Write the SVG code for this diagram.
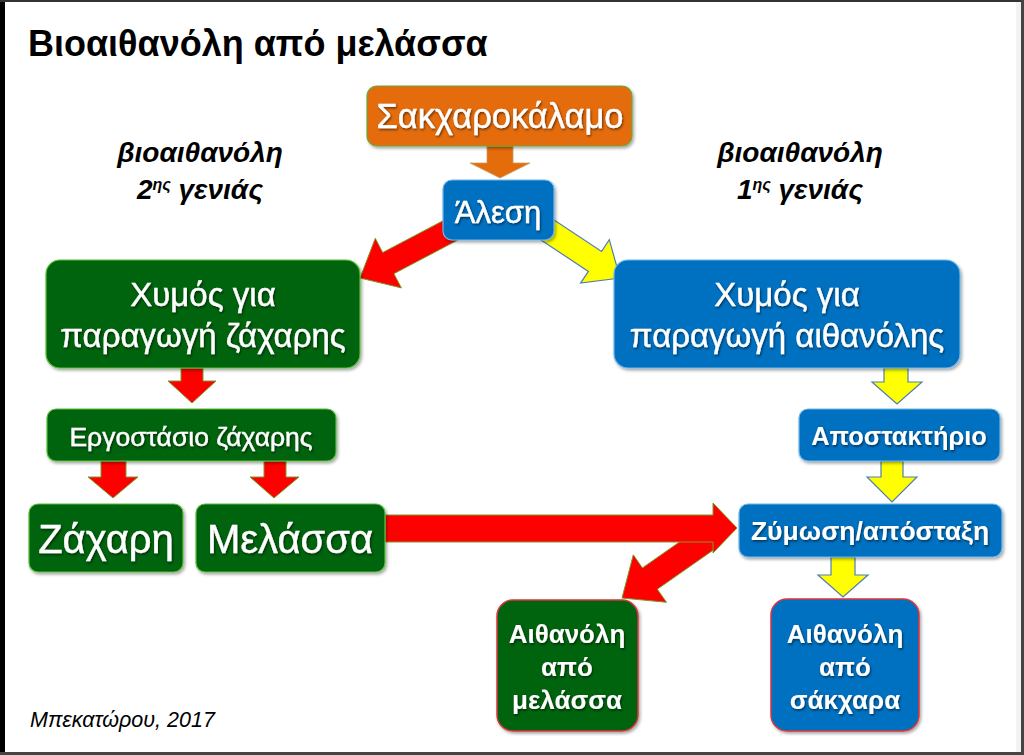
<svg xmlns="http://www.w3.org/2000/svg" width="1024" height="755" viewBox="0 0 1024 755">
<defs>
<filter id="ts" x="-10%" y="-10%" width="120%" height="130%">
<feDropShadow dx="1" dy="1.5" stdDeviation="0.8" flood-color="#000" flood-opacity="0.55"/>
</filter>
<filter id="bs" x="-10%" y="-10%" width="120%" height="130%">
<feDropShadow dx="1.5" dy="2" stdDeviation="1.5" flood-color="#000" flood-opacity="0.35"/>
</filter>
</defs>
<style>
text{font-family:"Liberation Sans",Arial,sans-serif;}
.t{fill:#fff;text-anchor:middle;filter:url(#ts);stroke:#fff;stroke-width:0.4;}
.b{font-weight:bold;stroke-width:0;}
.green{fill:#00640a;stroke:#5cbf3c;stroke-width:1.2;filter:url(#bs);}
.blue{fill:#0070c0;stroke:#6fb7ea;stroke-width:1.2;filter:url(#bs);}
.orange{fill:#e46c0a;stroke:#6aaa3a;stroke-width:1.2;filter:url(#bs);}
.greenR{fill:#00640a;stroke:#d9363e;stroke-width:1.5;filter:url(#bs);}
.blueR{fill:#0070c0;stroke:#d9363e;stroke-width:1.5;filter:url(#bs);}
.red{fill:#ff0000;stroke:#7a9a2a;stroke-width:1;}
.yel{fill:#ffff00;stroke:#4f7fb0;stroke-width:1.2;}
.org{fill:#e46c0a;stroke:#c0a060;stroke-width:0.8;}
.side{font-style:italic;font-weight:bold;font-size:28px;fill:#000;text-anchor:middle;}
</style>
<rect x="0" y="0" width="1024" height="755" fill="#fff"/>
<rect x="0" y="0" width="5" height="755" fill="#000"/>
<rect x="0" y="0" width="1024" height="2" fill="#333"/>
<rect x="1021" y="0" width="3" height="755" fill="#444"/>
<rect x="1016" y="2" width="5" height="751" fill="#f2f2f2"/>
<rect x="0" y="752" width="1024" height="3" fill="#444"/>

<text x="28" y="56" font-size="36" font-weight="bold" fill="#000">Βιοαιθανόλη από μελάσσα</text>

<text class="side" x="200" y="162">βιοαιθανόλη</text>
<text class="side" x="200" y="199">2<tspan font-size="16" dy="-9">ης</tspan><tspan dy="9"> γενιάς</tspan></text>
<text class="side" x="800" y="162">βιοαιθανόλη</text>
<text class="side" x="800" y="199">1<tspan font-size="16" dy="-9">ης</tspan><tspan dy="9"> γενιάς</tspan></text>

<g id="connectors">
<polygon class="org" points="487,146 513,146 513,163 530,163 500,178 470,163 487,163"/>
<polygon class="red" points="449.4,217.4 382.7,252.5 375.3,238.3 360,278 401.4,287.9 393.9,273.7 460.6,238.6"/>
<polygon class="yel" points="533.4,235 588.4,271.4 580.6,283.1 620,278 609.3,239.7 601.6,251.4 546.6,215"/>
<polygon class="red" points="181,368 203,368 203,381 216,381 192,403 168,381 181,381"/>
<polygon class="red" points="101,461 126,461 126,477 138,477 113,498 88,477 101,477"/>
<polygon class="red" points="264,461 286,461 286,477 299,477 274,498 250,477 264,477"/>
<polygon class="red" points="704.6,524.4 642.4,567.9 633.3,554.8 622,598 666.5,602.3 657.3,589.2 719.5,545.7"/>
<polygon class="red" points="385,515 713,515 713,503 737,528 713,553 713,542 385,542"/>
<polygon class="yel" points="884,368 908,368 908,382 922,382 897,404 872,382 884,382"/>
<polygon class="yel" points="881,461 903,461 903,477 917,477 892,502 867,477 881,477"/>
<polygon class="yel" points="831,557 855,557 855,575 868,575 843,597 818,575 831,575"/>
</g>

<g id="sakcharokalamo">
<rect class="orange" x="367" y="86" width="265" height="60" rx="10"/>
<text class="t" x="500" y="128" font-size="34.5">Σακχαροκάλαμο</text>
</g>
<g id="alesi">
<rect class="blue" x="443" y="180" width="111" height="60" rx="9"/>
<text class="t" x="498" y="223" font-size="31">Άλεση</text>
</g>
<g id="xymos-zachari">
<rect class="green" x="46" y="260" width="314" height="108" rx="14"/>
<text class="t" x="203" y="306" font-size="33">Χυμός για</text>
<text class="t" x="203" y="347" font-size="33">παραγωγή ζάχαρης</text>
</g>
<g id="xymos-aithanoli">
<rect class="blue" x="614" y="260" width="346" height="108" rx="14"/>
<text class="t" x="787" y="306" font-size="33">Χυμός για</text>
<text class="t" x="787" y="347" font-size="33">παραγωγή αιθανόλης</text>
</g>
<g id="ergostasio">
<rect class="green" x="47" y="409" width="289" height="52" rx="9"/>
<text class="t" x="191" y="446" font-size="26.5">Εργοστάσιο ζάχαρης</text>
</g>
<g id="zachari">
<rect class="green" x="29" y="504" width="154" height="68" rx="9"/>
<text class="t" x="106" y="553" font-size="40">Ζάχαρη</text>
</g>
<g id="melassa">
<rect class="green" x="196" y="504" width="189" height="68" rx="9"/>
<text class="t" x="290" y="553" font-size="40">Μελάσσα</text>
</g>
<g id="apostaktirio">
<rect class="blue" x="799" y="409" width="201" height="52" rx="9"/>
<text class="t b" x="899" y="445" font-size="25.4">Αποστακτήριο</text>
</g>
<g id="zymosi">
<rect class="blue" x="739" y="504" width="263" height="53" rx="9"/>
<text class="t b" x="870" y="540" font-size="26.5">Ζύμωση/απόσταξη</text>
</g>
<g id="aithanoli-melassa">
<rect class="greenR" x="497" y="600" width="141" height="131" rx="16"/>
<text class="t b" x="567" y="643" font-size="26">Αιθανόλη</text>
<text class="t b" x="567" y="676" font-size="26">από</text>
<text class="t b" x="567" y="709" font-size="26">μελάσσα</text>
</g>
<g id="aithanoli-sakchara">
<rect class="blueR" x="771" y="599" width="148" height="132" rx="16"/>
<text class="t b" x="845" y="643" font-size="26">Αιθανόλη</text>
<text class="t b" x="845" y="676" font-size="26">από</text>
<text class="t b" x="845" y="709" font-size="26">σάκχαρα</text>
</g>

<text x="30" y="727" font-size="21.5" font-style="italic" fill="#000">Μπεκατώρου, 2017</text>
</svg>
